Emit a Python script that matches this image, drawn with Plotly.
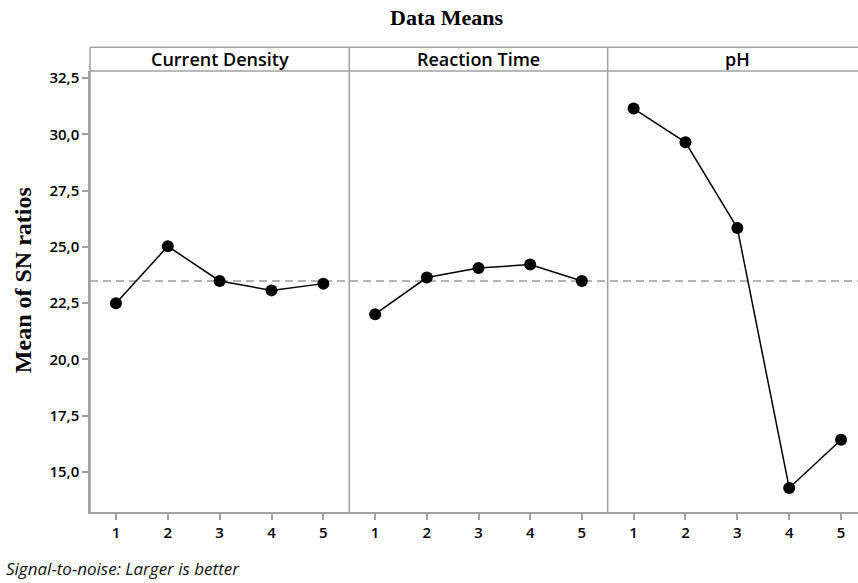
import numpy as np
import plotly.graph_objects as go

levels = [1, 2, 3, 4, 5]
factors = ["Current Density", "Reaction Time", "pH"]
current_density = [22.50, 25.03, 23.49, 23.07, 23.37]
reaction_time = [22.01, 23.64, 24.06, 24.22, 23.49]
ph_values = [31.15, 29.65, 25.84, 14.29, 16.43]
y_ticks = [15.0, 17.5, 20.0, 22.5, 25.0, 27.5, 30.0, 32.5]
y_tick_text = ["15,0", "17,5", "20,0", "22,5", "25,0", "27,5", "30,0", "32,5"]

series = [current_density, reaction_time, ph_values]
grand_mean = float(np.mean(current_density + reaction_time + ph_values))

W, H = 858, 583
L, T, B = 90, 71, 71.3
plot_w = W - L
plot_h = H - T - B
div1 = (349.3 - L) / plot_w
div2 = (607.7 - L) / plot_w
domains = [[0, div1], [div1, div2], [div2, 1.0]]
unit = (349.3 - L) / 5.0
ranges = [[0.5, 5.5], [0.5, 5.5], [0.5, 0.5 + (W - 607.7) / unit]]

GRAY = "#a0a0a0"
TICKFONT = dict(family="Open Sans", size=15, color="black", weight=600)

fig = go.Figure()
for i, vals in enumerate(series):
    xa = "x" if i == 0 else f"x{i+1}"
    fig.add_trace(go.Scatter(
        x=levels, y=vals, xaxis=xa, yaxis="y", mode="lines+markers",
        line=dict(color="black", width=1.5),
        marker=dict(color="black", size=12),
        showlegend=False, hoverinfo="x+y"))

layout = dict(
    width=W, height=H,
    margin=dict(l=L, r=0, t=T, b=B),
    plot_bgcolor="white", paper_bgcolor="white",
    showlegend=False,
    yaxis=dict(range=[13.22, 32.82], tickvals=y_ticks, ticktext=y_tick_text,
               ticks="outside", ticklen=6, tickwidth=1.5, tickcolor=GRAY,
               showline=True, linecolor=GRAY, linewidth=1.5,
               showgrid=False, zeroline=False,
               tickfont=TICKFONT, title=None),
)
for i in range(3):
    key = "xaxis" if i == 0 else f"xaxis{i+1}"
    layout[key] = dict(
        domain=domains[i], range=ranges[i], anchor="y",
        tickvals=levels, ticktext=[str(v) for v in levels],
        ticks="outside", ticklen=6, tickwidth=1.5, tickcolor=GRAY,
        showline=True, linecolor=GRAY, linewidth=1.5,
        showgrid=False, zeroline=False,
        tickfont=TICKFONT)
fig.update_layout(**layout)

strip_top = 1 + (T - 47.3) / plot_h
shapes = []
shapes.append(dict(type="line", xref="paper", yref="paper", x0=0, x1=1,
                   y0=strip_top, y1=strip_top, line=dict(color=GRAY, width=1.5)))
shapes.append(dict(type="line", xref="paper", yref="paper", x0=0, x1=1,
                   y0=1, y1=1, line=dict(color=GRAY, width=1.5)))
shapes.append(dict(type="line", xref="paper", yref="paper", x0=0, x1=0,
                   y0=0, y1=strip_top, line=dict(color=GRAY, width=1.5)))
for d in (div1, div2):
    shapes.append(dict(type="line", xref="paper", yref="paper", x0=d, x1=d,
                       y0=0, y1=strip_top, line=dict(color=GRAY, width=1.5)))
shapes.append(dict(type="line", xref="paper", yref="y", x0=0, x1=1,
                   y0=grand_mean, y1=grand_mean, layer="below",
                   line=dict(color="#9a9a9a", width=1.5, dash="8px,5px")))
fig.update_layout(shapes=shapes)

annotations = []
for i, name in enumerate(factors):
    left = domains[i][0]
    right = (607.7 - L + unit * 5) / plot_w if i == 2 else domains[i][1]
    annotations.append(dict(text=name, xref="paper", yref="paper",
                            x=(left + right) / 2, y=(1 + strip_top) / 2,
                            xanchor="center", yanchor="middle", showarrow=False,
                            font=dict(family="Open Sans", size=18, color="black", weight=600)))
annotations.append(dict(text="<b>Data Means</b>", xref="paper", yref="paper",
                        x=(446.5 - L) / plot_w, y=1 + (T - 18) / plot_h,
                        xanchor="center", yanchor="middle", showarrow=False,
                        font=dict(family="Liberation Serif", size=22, color="black")))
annotations.append(dict(text="<b>Mean of SN ratios</b>", xref="paper", yref="paper",
                        x=(23 - L) / plot_w, y=1 - (280 - T) / plot_h, textangle=-90,
                        xanchor="center", yanchor="middle", showarrow=False,
                        font=dict(family="Liberation Serif", size=24, color="black")))
annotations.append(dict(text="<i>Signal-to-noise: Larger is better</i>",
                        xref="paper", yref="paper",
                        x=(4 - L) / plot_w, y=-(568 - (H - B)) / plot_h,
                        xanchor="left", yanchor="middle", showarrow=False,
                        font=dict(family="Open Sans", size=17, color="#111")))
fig.update_layout(annotations=annotations)

fig.write_html("out.html")
